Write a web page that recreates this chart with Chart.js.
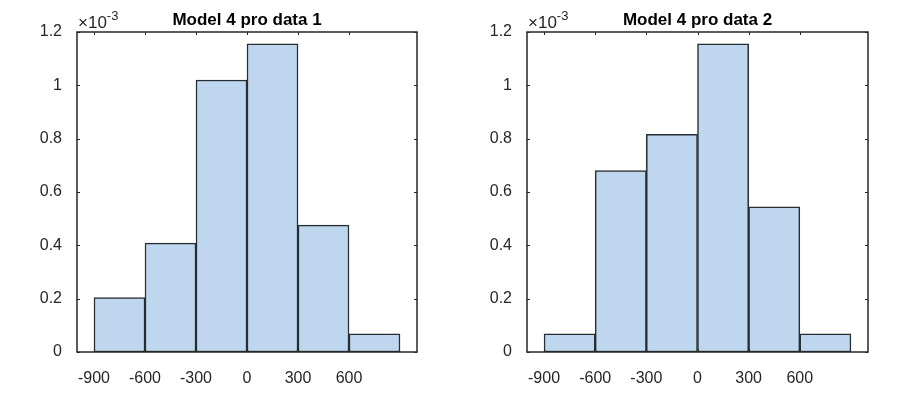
<!DOCTYPE html>
<html>
<head>
<meta charset="utf-8">
<script src="https://cdn.jsdelivr.net/npm/chart.js@4/dist/chart.umd.min.js"></script>
<style>
  html, body { margin: 0; padding: 0; background: #fff; }
  .wrap { position: absolute; top: 0; width: 454px; height: 396px; }
</style>
</head>
<body>
<div class="wrap" style="left:0"><canvas id="c1"></canvas></div>
<div class="wrap" style="left:454px"><canvas id="c2"></canvas></div>
<script>
// bin centres (bins are 300 wide, from -900 to 900)
const binCenters = [-750, -450, -150, 150, 450, 750];
// probability density, in units of 1e-3
const data1 = [0.204, 0.408, 1.020, 1.156, 0.476, 0.068];
const data2 = [0.068, 0.680, 0.816, 1.156, 0.544, 0.068];
const xTicks = [-900, -600, -300, 0, 300, 600];
const yTicks = [0, 0.2, 0.4, 0.6, 0.8, 1, 1.2];
const titles = ['Model 4 pro data 1', 'Model 4 pro data 2'];

const axisColor = '#262626';
const font = { family: 'Liberation Sans, Arial, sans-serif', size: 16 };

// box around the axes with small inward ticks, plus title and exponent
const boxPlugin = {
  id: 'box',
  afterDraw(chart) {
    const ctx = chart.ctx;
    const a = chart.chartArea;
    const xs = chart.scales.x, ys = chart.scales.y;
    ctx.save();
    ctx.strokeStyle = axisColor;
    ctx.lineWidth = 1.5;
    ctx.strokeRect(a.left, a.top, a.right - a.left, a.bottom - a.top);
    ctx.lineWidth = 1;
    ctx.beginPath();
    xTicks.forEach(v => {
      const px = Math.round(xs.getPixelForValue(v)) + 0.5;
      ctx.moveTo(px, a.bottom); ctx.lineTo(px, a.bottom - 3);
      ctx.moveTo(px, a.top); ctx.lineTo(px, a.top + 3);
    });
    yTicks.forEach(v => {
      const py = Math.round(ys.getPixelForValue(v)) + 0.5;
      ctx.moveTo(a.left, py); ctx.lineTo(a.left + 3, py);
      ctx.moveTo(a.right, py); ctx.lineTo(a.right - 3, py);
    });
    ctx.stroke();

    ctx.fillStyle = '#000';
    ctx.font = 'bold 17px Liberation Sans, Arial, sans-serif';
    ctx.textAlign = 'center';
    ctx.textBaseline = 'alphabetic';
    ctx.fillText(chart.options.plugins.box.title, (a.left + a.right) / 2, 25);

    ctx.fillStyle = axisColor;
    ctx.textAlign = 'left';
    ctx.font = '17px Liberation Sans, Arial, sans-serif';
    ctx.fillText('\u00d710', a.left + 1, 28);
    const w = ctx.measureText('\u00d710').width;
    ctx.font = '13px Liberation Sans, Arial, sans-serif';
    ctx.fillText('-3', a.left + 1 + w, 20);
    ctx.restore();
  }
};

function makeChart(id, values, title, padLeft, padRight) {
  return new Chart(document.getElementById(id), {
    type: 'bar',
    data: {
      datasets: [{
        data: binCenters.map((x, i) => ({ x: x, y: values[i] })),
        backgroundColor: '#bed7ee',
        borderColor: '#262d33',
        borderWidth: 1.5,
        borderSkipped: false,
        barPercentage: 1,
        categoryPercentage: 1
      }]
    },
    options: {
      responsive: false,
      animation: false,
      layout: { padding: { left: 0, top: 32, right: padRight, bottom: 0 } },
      plugins: {
        legend: { display: false },
        tooltip: { enabled: false },
        box: { title: title }
      },
      scales: {
        x: {
          type: 'linear',
          offset: false,
          min: -1000,
          max: 1000,
          grid: { display: false },
          border: { display: false },
          afterBuildTicks(s) { s.ticks = xTicks.map(v => ({ value: v })); },
          afterFit(s) { s.height = 44; },
          ticks: { color: axisColor, font: font, padding: 9, maxRotation: 0, autoSkip: false }
        },
        y: {
          min: 0,
          max: 1.2,
          grid: { display: false },
          border: { display: false },
          afterBuildTicks(s) { s.ticks = yTicks.map(v => ({ value: v })); },
          afterFit(s) { s.width = padLeft; },
          ticks: { color: axisColor, font: font, padding: 7, callback: v => String(Math.round(v * 10) / 10) }
        }
      }
    },
    plugins: [boxPlugin]
  });
}

document.getElementById('c1').width = 454;
document.getElementById('c1').height = 396;
document.getElementById('c2').width = 454;
document.getElementById('c2').height = 396;

makeChart('c1', data1, titles[0], 77, 37);
makeChart('c2', data2, titles[1], 73, 40);
</script>
</body>
</html>
